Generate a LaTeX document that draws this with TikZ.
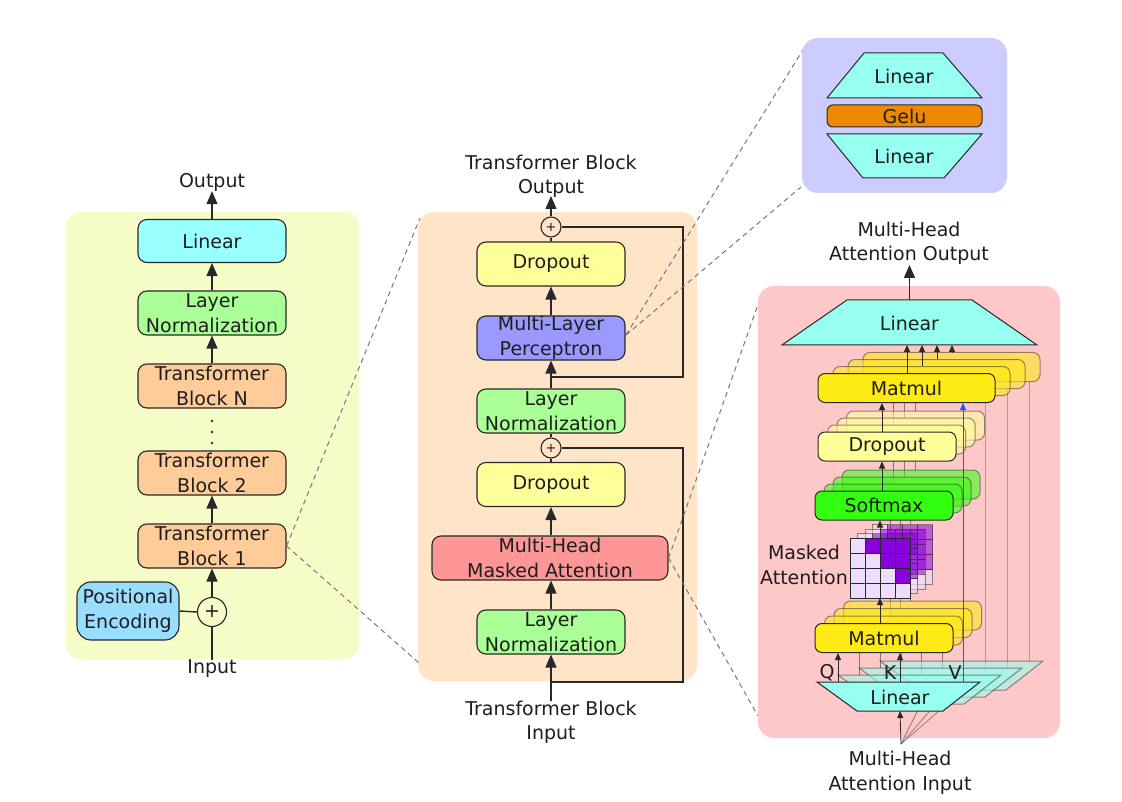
\documentclass[tikz,border=0pt]{standalone}
\usepackage{fontspec}
\setmainfont{DejaVu Sans}
\usetikzlibrary{arrows.meta}
\definecolor{edge}{RGB}{40,40,40}
\definecolor{txt}{RGB}{30,30,30}
\definecolor{bgL}{RGB}{246,252,200}
\definecolor{bgM}{RGB}{255,228,200}
\definecolor{bgP}{RGB}{204,204,255}
\definecolor{bgA}{RGB}{255,200,200}
\definecolor{cyanB}{RGB}{153,255,255}
\definecolor{cyanT}{RGB}{150,255,240}
\definecolor{greenB}{RGB}{170,255,150}
\definecolor{orangeB}{RGB}{255,204,153}
\definecolor{peB}{RGB}{153,221,255}
\definecolor{yellowB}{RGB}{255,255,153}
\definecolor{mlpB}{RGB}{153,153,255}
\definecolor{mhaB}{RGB}{255,150,150}
\definecolor{geluB}{RGB}{238,136,0}
\definecolor{mmY}{RGB}{255,235,20}
\definecolor{smG}{RGB}{51,255,17}
\definecolor{purpC}{RGB}{136,0,221}
\definecolor{lightC}{RGB}{238,221,255}
\definecolor{vblue}{RGB}{40,80,255}
\definecolor{vback}{RGB}{150,150,235}
\definecolor{dashc}{RGB}{120,120,120}
\newcommand\fs{\fontsize{19}{24.5}\selectfont}
\newcommand\fsp{\fontsize{13}{14}\selectfont}
\begin{document}
\begin{tikzpicture}[x=1pt,y=-1pt,
  box/.style={draw=edge, line width=1.1pt, rounded corners=9pt, minimum width=148pt,
    minimum height=44pt, inner sep=0pt, align=center, text=txt, font=\fs},
  lbl/.style={inner sep=0pt, align=center, text=txt, font=\fs},
  pluscirc/.style={circle, draw=edge, line width=1.1pt, inner sep=0pt, text=txt},
  arr/.style={draw=edge, line width=1.4pt, -{Triangle[length=13pt,width=11pt]}},
  ln/.style={draw=edge, line width=1.4pt},
  dsh/.style={draw=dashc, line width=1pt, dash pattern=on 5pt off 4pt},
  hbox/.style={draw=edge, line width=1pt, rounded corners=7pt, inner sep=0pt,
    minimum height=29pt, text=txt, font=\fs},
  ghost/.style={fill opacity=0.55, draw opacity=0.5},
  sarr/.style={draw=edge, line width=0.8pt, -{Triangle[length=7pt,width=6pt]}},
  sline/.style={draw=edge!80, line width=0.7pt, draw opacity=0.7},
  trap/.style={draw=edge, line width=1pt, fill=cyanT},
]
\useasboundingbox (0,0) rectangle (1122,802);
\fill[white] (0,0) rectangle (1122,802);

% ================= LEFT PANEL =================
\fill[bgL, rounded corners=14pt] (66,212) rectangle (359,659);
\node[box, fill=cyanB, minimum height=43pt] (lin1) at (212,241) {Linear};
\node[box, fill=greenB] (ln1) at (212,313) {Layer\\Normalization};
\node[box, fill=orangeB] (tbN) at (212,386) {Transformer\\Block N};
\node[box, fill=orangeB] (tb2) at (212,473) {Transformer\\Block 2};
\node[box, fill=orangeB] (tb1) at (212,546) {Transformer\\Block 1};
\node[box, fill=peB, minimum width=102pt, minimum height=58pt, rounded corners=14pt] (pe) at (128,611) {Positional\\Encoding};
\node[pluscirc, minimum size=29pt, font=\fs] (plus) at (212,612) {+};
\node[lbl] (out1) at (212,182) {Output};
\node[lbl] (in1) at (212,669) {Input};
\foreach \yy [count=\k] in {421,432,443} \fill[edge] (212,\yy) circle (1.4pt) coordinate (dot\k);

\draw[ln] (in1.north) -- (plus.south);
\draw[ln] (pe.east) -- (plus.west);
\draw[arr] (plus.north) -- (tb1.south);
\draw[arr] (tb1.north) -- (tb2.south);
\draw[arr] (tbN.north) -- (ln1.south);
\draw[arr] (ln1.north) -- (lin1.south);
\draw[arr] (lin1.north) -- (out1.south);

% ================= MIDDLE PANEL =================
\fill[bgM, rounded corners=16pt] (418,212) rectangle (697,681);
\node[pluscirc, minimum size=20pt, font=\fsp] (plusA) at (551,227) {+};
\node[box, fill=yellowB] (drop1) at (551,264) {Dropout};
\node[box, fill=mlpB] (mlp) at (551,338) {Multi-Layer\\Perceptron};
\node[box, fill=greenB] (ln2) at (551,411) {Layer\\Normalization};
\node[pluscirc, minimum size=20pt, font=\fsp] (plusB) at (551,448) {+};
\node[box, fill=yellowB] (drop2) at (551,484.5) {Dropout};
\node[box, fill=mhaB, minimum width=236pt] (mhma) at (550,558) {Multi-Head\\Masked Attention};
\node[box, fill=greenB] (ln3) at (551,632) {Layer\\Normalization};
\node[lbl] (out2) at (551,176.5) {Transformer Block\\Output};
\node[lbl] (in2) at (551,722.5) {Transformer Block\\Input};

\coordinate (sA) at (551,377); \coordinate (cA) at (683,377); \coordinate (dA) at (683,227);
\coordinate (sB) at (551,682); \coordinate (cB) at (683,682); \coordinate (dB) at (683,448);
\draw[ln] (sA) -- (cA) -- (dA) -- (plusA.east);
\draw[ln] (sB) -- (cB) -- (dB) -- (plusB.east);
\draw[arr] (in2.north) -- (ln3.south);
\draw[arr] (ln3.north) -- (ln3.north |- mhma.south);
\draw[arr] (ln3.north |- mhma.north) -- (drop2.south);
\draw[ln] (drop2.north) -- (plusB.south);
\draw[ln] (plusB.north) -- (ln2.south);
\draw[arr] (ln2.north) -- (mlp.south);
\draw[arr] (mlp.north) -- (drop1.south);
\draw[ln] (drop1.north) -- (plusA.south);
\coordinate (o2tip) at (551,196);
\draw[arr] (plusA.north) -- (o2tip);

% dashed zoom lines
\coordinate (tbA) at (420,218); \coordinate (tbB) at (419,663);
\draw[dsh] (tb1.east) -- (tbA);
\draw[dsh] (tb1.east) -- (tbB);
\coordinate (mlA) at (806,45); \coordinate (mlB) at (801,187);
\coordinate (mlS) at (626,335);
\draw[dsh] (mlS) -- (mlA);
\draw[dsh] (mlS) -- (mlB);
\coordinate (maA) at (761,296); \coordinate (maB) at (758,716);
\draw[dsh] (mhma.east) -- (maA);
\draw[dsh] (mhma.east) -- (maB);

% ================= MLP DETAIL =================
\fill[bgP, rounded corners=16pt] (802,38) rectangle (1007,193);
\draw[trap] (864,53) -- (943,53) -- (982,98) -- (827,98) -- cycle;
\node[lbl] (mlpL1) at (904,76) {Linear};
\node[draw=edge, line width=1pt, rounded corners=6pt, fill=geluB, minimum width=155pt,
  minimum height=22pt, inner sep=0pt, text=txt, font=\fs] (gelu) at (904.5,116) {Gelu};
\draw[trap] (827,134) -- (982,134) -- (944,178) -- (863,178) -- cycle;
\node[lbl] (mlpL2) at (904,156) {Linear};

% ================= ATTENTION DETAIL =================
\fill[bgA, rounded corners=16pt] (758,286) rectangle (1060,738);

% back-head lines (behind boxes)
\foreach \i in {3,2,1} {
  \coordinate (vb\i) at ({963+22*\i},{682-7*\i});
  \coordinate (vt\i) at ({963+22*\i},{403-7*\i});
  \draw[draw=vback, line width=0.9pt] (vb\i) -- (vt\i);
  \coordinate (qb\i) at ({838+21*\i},{682-7*\i});
  \coordinate (qt\i) at ({838+21*\i},{653-7.5*\i});
  \draw[sline] (qb\i) -- (qt\i);
  \coordinate (kb\i) at ({900+21*\i},{682-7*\i});
  \coordinate (kt\i) at ({900+21*\i},{653-7.5*\i});
  \draw[sline] (kb\i) -- (kt\i);
  \coordinate (g1b\i) at ({880+10*\i},{623-7.5*\i});
  \coordinate (g1t\i) at ({880+10*\i},{598-4.5*\i});
  \draw[sline] (g1b\i) -- (g1t\i);
  \coordinate (g2b\i) at ({880+10*\i},{538-4.5*\i});
  \coordinate (g2t\i) at ({880+10*\i},{520-7*\i});
  \draw[sline] (g2b\i) -- (g2t\i);
  \coordinate (sdb\i) at ({882+11*\i},{491-7*\i});
  \coordinate (sdt\i) at ({882+11*\i},{461-7*\i});
  \draw[sline] (sdb\i) -- (sdt\i);
  \coordinate (dmb\i) at ({882+11*\i},{432-7*\i});
  \coordinate (dmt\i) at ({882+11*\i},{403-7*\i});
  \draw[sline] (dmb\i) -- (dmt\i);
}
% fan from input
\coordinate (fan) at (901,744);
\foreach \i in {3,2,1} {
  \coordinate (lb\i) at ({900+21*\i},{711-7*\i});
  \draw[sline] (fan) -- (lb\i);
}

% back copies
\foreach \i in {3,2,1} {
  \draw[trap, ghost] ({817+21*\i},{682-7*\i}) -- ({980+21*\i},{682-7*\i}) -- ({943+21*\i},{711-7*\i}) -- ({857+21*\i},{711-7*\i}) -- cycle;
  \node[hbox, ghost, fill=mmY, minimum width=138pt] (mmL\i) at ({884+9.5*\i},{638-7.5*\i}) {};
  \begin{scope}[shift={({7.5*\i},{-4.5*\i})}]
    \foreach \r in {0,...,3} \foreach \c in {0,...,3} {
      \pgfmathsetmacro\isp{\c>\r ? 1 : 0}
      \ifdim\isp pt>0.5pt
        \filldraw[fill=purpC, draw=edge, line width=0.6pt, ghost] ({850+15*\c},{538+15*\r}) rectangle ++(15,15);
      \else
        \filldraw[fill=lightC, draw=edge, line width=0.6pt, ghost] ({850+15*\c},{538+15*\r}) rectangle ++(15,15);
      \fi
    }
  \end{scope}
  \node[hbox, ghost, fill=smG, minimum width=138pt] (smx\i) at ({884+9*\i},{505.5-7*\i}) {};
  \node[hbox, ghost, fill=yellowB, minimum width=138pt] (dpa\i) at ({887+9.5*\i},{446.5-7*\i}) {};
  \node[hbox, ghost, fill=mmY, minimum width=177pt] (mmU\i) at ({906.5+15*\i},{388-7*\i}) {};
}

% front boxes
\draw[trap] (817,682) -- (980,682) -- (943,711) -- (857,711) -- cycle;
\node[lbl] (linB) at (900,697) {Linear};
\node[hbox, fill=mmY, minimum width=138pt] (mmL) at (884,638) {Matmul};
\foreach \r in {0,...,3} \foreach \c in {0,...,3} {
  \pgfmathsetmacro\isp{\c>\r ? 1 : 0}
  \ifdim\isp pt>0.5pt
    \filldraw[fill=purpC, draw=edge, line width=0.6pt] ({850+15*\c},{538+15*\r}) rectangle ++(15,15);
  \else
    \filldraw[fill=lightC, draw=edge, line width=0.6pt] ({850+15*\c},{538+15*\r}) rectangle ++(15,15);
  \fi
}
\coordinate (gridB) at (880,598);
\coordinate (gridT) at (880,538);
\node[hbox, fill=smG, minimum width=138pt] (smx) at (884,505.5) {Softmax};
\node[hbox, fill=yellowB, minimum width=138pt] (dpa) at (887,446.5) {Dropout};
\node[hbox, fill=mmY, minimum width=177pt] (mmU) at (906.5,388) {Matmul};
\draw[trap] (847,300) -- (972,300) -- (1037,345) -- (782,345) -- cycle;
\node[lbl] (linT) at (909.5,323) {Linear};
\coordinate (linTb) at (909.5,345);

% labels
\node[lbl] (masked) at (804,565) {Masked\\Attention};
\node[lbl] (qlab) at (827,673) {Q};
\node[lbl] (klab) at (890,673) {K};
\node[lbl] (vlab) at (955,673) {V};
\node[lbl] (aout) at (909,243.5) {Multi-Head\\Attention Output};
\node[lbl] (ain) at (900,773) {Multi-Head\\Attention Input};

% front arrows
\coordinate (qb0) at (838,682); \coordinate (kb0) at (900,682);
\coordinate (vb0) at (963,682); \coordinate (lb0) at (900,711);
\draw[sarr] (qb0) -- (qb0 |- mmL.south);
\draw[sarr] (kb0) -- (kb0 |- mmL.south);
\draw[draw=vblue, line width=0.9pt, -{Triangle[length=7pt,width=6pt]}, vblue] (vb0) -- (vb0 |- mmU.south);
\draw[sarr] (fan) -- (lb0);
\draw[sarr] (gridB |- mmL.north) -- (gridB);
\draw[sarr] (gridT) -- (gridT |- smx.south);
\coordinate (sd0) at (882,491);
\draw[sarr] (sd0) -- (sd0 |- dpa.south);
\coordinate (dm0) at (882,432);
\draw[sarr] (dm0) -- (dm0 |- mmU.south);
\foreach \i in {0,1,2,3} {
  \coordinate (ub\i) at ({907+15*\i},{373-7*\i});
  \draw[sarr] (ub\i) -- (ub\i |- linTb);
}
\coordinate (aoutTip) at (909.5,265);
\coordinate (linTtop) at (909.5,300);
\draw[arr] (linTtop) -- (aoutTip);
\end{tikzpicture}
\end{document}
